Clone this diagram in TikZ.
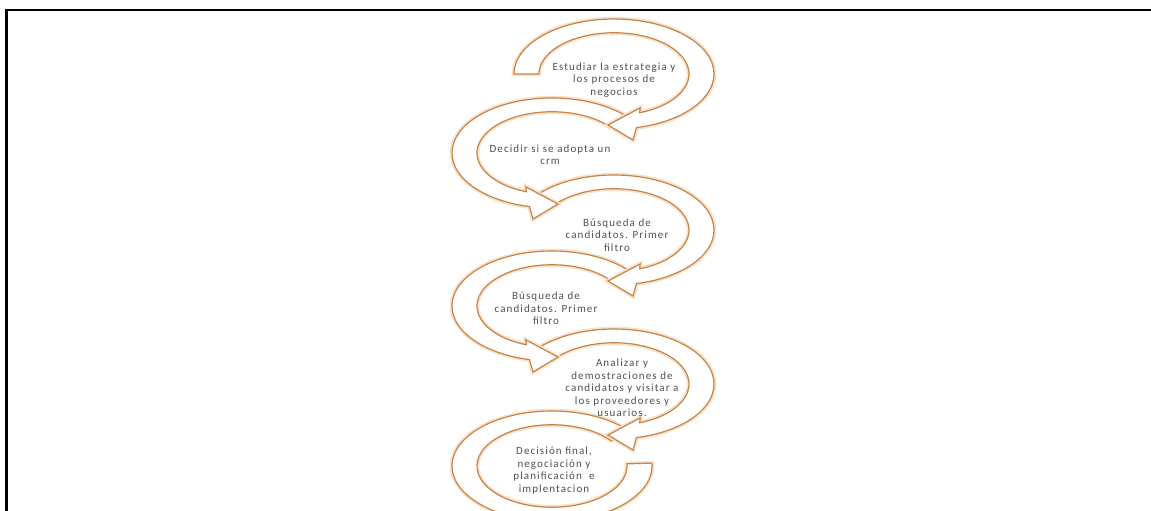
\documentclass[tikz,border=0pt]{standalone}
\usepackage{fontspec}
\setmainfont{Carlito}
\newfontfamily\labelfont[LetterSpace=10]{Carlito}
\definecolor{arrowline}{RGB}{196,133,74}
\definecolor{arrowglow}{RGB}{250,224,198}
\definecolor{labeltext}{RGB}{80,80,80}

% arrowband: white ring segment with an orange outline and a soft glow
\tikzset{
  arrowband/.style={draw=arrowline, line width=1.2pt, fill=white, line join=miter,
    preaction={draw=arrowglow, line width=4.5pt}},
  steplabel/.style={font=\labelfont\fontsize{11}{12.5}\selectfont, text=labeltext,
    align=center, inner sep=0pt},
  frameline/.style={line width=2.5pt, black}
}

% clockwise curved arrow (over the top, head at the bottom pointing left)
% #1 = centre, #2 = start angle
\newcommand{\cwarrow}[2]{%
  \begin{scope}[shift={#1}, xscale=100, yscale=-55]
    \path[arrowband] (#2:1) arc[start angle=#2, end angle=-77, radius=1]
      -- (-81:1.215) -- (-93.7:0.93) -- (-67:0.67) -- (-70:0.75)
      arc[start angle=-70, end angle=#2, radius=0.75] -- cycle;
  \end{scope}}

% counter-clockwise curved arrow (over the top, head at the bottom pointing right)
\newcommand{\ccwarrow}[2]{%
  \begin{scope}[shift={#1}, xscale=100, yscale=-55]
    \path[arrowband] (#2:1) arc[start angle=#2, end angle=257, radius=1]
      -- (261:1.215) -- (273.7:0.93) -- (247:0.67) -- (250:0.75)
      arc[start angle=250, end angle=#2, radius=0.75] -- cycle;
  \end{scope}}

% counter-clockwise ring with a plain end
\newcommand{\ccwring}[3]{%
  \begin{scope}[shift={#1}, xscale=100, yscale=-55]
    \path[arrowband] (#2:1) arc[start angle=#2, end angle=#3, radius=1]
      -- (#3:0.75) arc[start angle=#3, end angle=#2, radius=0.75] -- cycle;
  \end{scope}}

\begin{document}
\begin{tikzpicture}[x=1pt, y=-1pt]
  \useasboundingbox (0,0) rectangle (1151,511);
  \fill[white] (0,0) rectangle (1151,511);

  \begin{scope}
    \clip (0,0) rectangle (1151,511);
    % drawn from the last step to the first, so each head lies over the next band
    \ccwring{(552,466)}{38}{363}
    \cwarrow{(614,384)}{141}
    \ccwarrow{(552,306)}{38}
    \cwarrow{(614,230)}{141}
    \ccwarrow{(552,153)}{38}
    \cwarrow{(614,74)}{180}
  \end{scope}

  \node[steplabel] (s1) at (614,80) {Estudiar la estrategia y\\los procesos de\\negocios};
  \node[steplabel] (s2) at (550,154.5) {Decidir si se adopta un\\crm};
  \node[steplabel] (s3) at (617,235) {Búsqueda de\\candidatos. Primer\\filtro};
  \node[steplabel] (s4) at (546,308.5) {Búsqueda de\\candidatos. Primer\\filtro};
  \node[steplabel] (s5) at (622,388) {Analizar y\\demostraciones de\\candidatos y visitar a\\los proveedores y\\usuarios.};
  \node[steplabel] (s6) at (554,470.5) {Decisión final,\\negociación y\\planificación\ \ e\\implentacion};

  % page frame
  \draw[frameline] (6.5,511) -- (6.5,10) -- (1151,10);
\end{tikzpicture}
\end{document}
